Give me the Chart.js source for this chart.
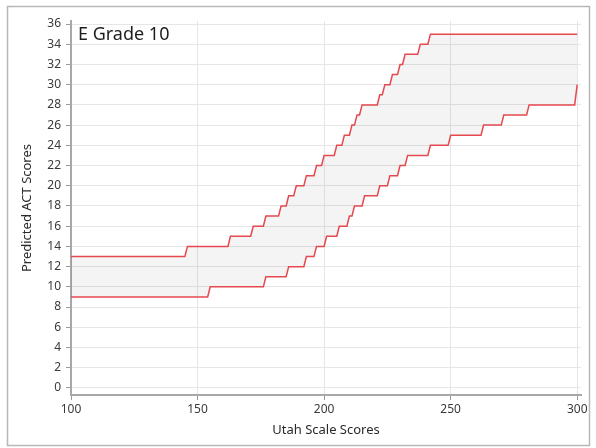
<!DOCTYPE html>
<html>
<head>
<meta charset="utf-8">
<script src="https://cdn.jsdelivr.net/npm/chart.js@4/dist/chart.umd.min.js"></script>
<style>
  html, body { margin: 0; padding: 0; background: #ffffff; }
  #c { display: block; }
</style>
</head>
<body>
<canvas id="c" width="596" height="448"></canvas>
<script>
// ---- data ----
const chartTitle = "E Grade 10";
const xAxisTitle = "Utah Scale Scores";
const yAxisTitle = "Predicted ACT Scores";

// Upper prediction line: scale score where each ACT value begins
const upperScores = [100, 146, 163, 172, 177, 183, 186, 189, 193, 197, 200, 205, 208, 211, 213, 215, 222, 224, 227, 230, 232, 238, 242];
const upperValues = [13, 14, 15, 16, 17, 18, 19, 20, 21, 22, 23, 24, 25, 26, 27, 28, 29, 30, 31, 32, 33, 34, 35];

// Lower prediction line
const lowerScores = [100, 155, 177, 186, 193, 197, 201, 206, 210, 212, 216, 222, 226, 230, 233, 242, 250, 263, 271, 281, 300];
const lowerValues = [9, 10, 11, 12, 13, 14, 15, 16, 17, 18, 19, 20, 21, 22, 23, 24, 25, 26, 27, 28, 30];

const xTickValues = [100, 150, 200, 250, 300];
const xEnd = 300;

// build step-line points from the arrays
function stepPoints(scores, values) {
  const pts = [];
  for (let i = 0; i < scores.length; i++) {
    pts.push({ x: scores[i], y: values[i] });
    if (i < scores.length - 1) {
      pts.push({ x: scores[i + 1] - 1, y: values[i] });
    } else if (scores[i] < xEnd) {
      pts.push({ x: xEnd, y: values[i] });
    }
  }
  return pts;
}

const RED = '#e5484f';
const FONT = '"Noto Sans", "Open Sans", sans-serif';

const framePlugin = {
  id: 'frame',
  beforeDraw(chart) {
    const ctx = chart.ctx;
    ctx.save();
    ctx.fillStyle = '#ffffff';
    ctx.fillRect(0, 0, chart.width, chart.height);
    ctx.strokeStyle = '#b8b8b8';
    ctx.lineWidth = 1.5;
    ctx.strokeRect(7.5, 6.5, 582, 439);
    ctx.restore();
  },
  afterDraw(chart) {
    const ctx = chart.ctx;
    ctx.save();
    ctx.fillStyle = '#1e1e1e';
    ctx.font = '18px ' + FONT;
    ctx.textAlign = 'left';
    ctx.textBaseline = 'middle';
    ctx.fillText(chartTitle, 78, 35);
    ctx.restore();
  }
};

new Chart(document.getElementById('c'), {
  type: 'line',
  data: {
    datasets: [
      {
        label: 'Lower',
        data: stepPoints(lowerScores, lowerValues),
        borderColor: RED,
        borderWidth: 1.5,
        pointRadius: 0,
        tension: 0,
        fill: false
      },
      {
        label: 'Upper',
        data: stepPoints(upperScores, upperValues),
        borderColor: RED,
        borderWidth: 1.5,
        pointRadius: 0,
        tension: 0,
        fill: { target: 0 },
        backgroundColor: 'rgba(0,0,0,0.045)'
      }
    ]
  },
  options: {
    responsive: false,
    animation: false,
    events: [],
    layout: { padding: { left: 0, top: 21, right: 15, bottom: 0 } },
    plugins: {
      legend: { display: false },
      tooltip: { enabled: false },
      title: { display: false }
    },
    scales: {
      x: {
        type: 'linear',
        min: 100,
        max: 301.5,
        afterFit(s) { s.height = 53; },
        afterBuildTicks(s) { s.ticks = xTickValues.map(v => ({ value: v })); },
        ticks: {
          includeBounds: false,
          font: { family: FONT, size: 12 },
          color: '#3a3a3a',
          padding: 2,
          maxRotation: 0
        },
        grid: {
          color: '#e6e6e6',
          lineWidth: 1,
          tickColor: '#9a9a9a',
          tickLength: 5
        },
        border: { color: '#a8a8a8', width: 2 },
        title: {
          display: true,
          text: xAxisTitle,
          font: { family: FONT, size: 13 },
          color: '#2a2a2a',
          padding: { top: 0, bottom: 10 }
        }
      },
      y: {
        type: 'linear',
        min: -0.7,
        max: 36.3,
        afterFit(s) { s.width = 71; },
        ticks: {
          stepSize: 2,
          includeBounds: false,
          font: { family: FONT, size: 12 },
          color: '#3a3a3a',
          padding: 5
        },
        grid: {
          color: '#e6e6e6',
          lineWidth: 1,
          tickColor: '#9a9a9a',
          tickLength: 5
        },
        border: { color: '#a8a8a8', width: 2 },
        title: {
          display: true,
          text: yAxisTitle,
          font: { family: FONT, size: 13 },
          color: '#2a2a2a',
          padding: { top: 19, bottom: 0 }
        }
      }
    }
  },
  plugins: [framePlugin]
});
</script>
</body>
</html>
